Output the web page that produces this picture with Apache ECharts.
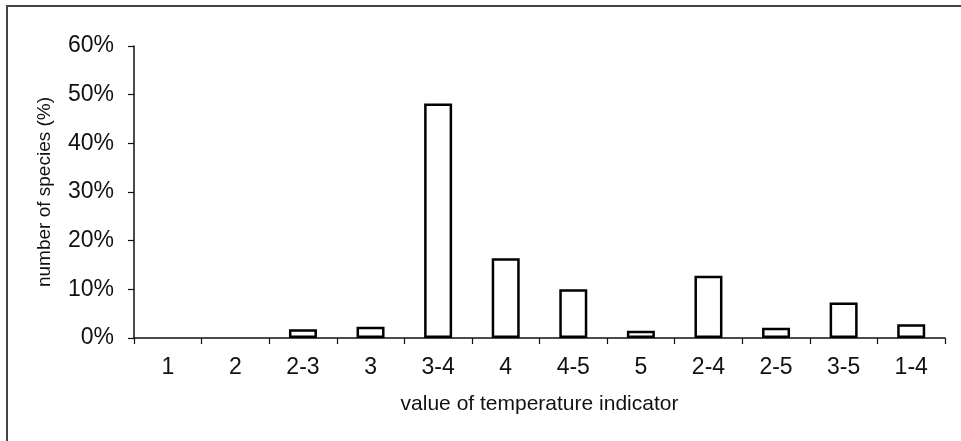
<!DOCTYPE html>
<html>
<head>
<meta charset="utf-8">
<script src="https://cdn.jsdelivr.net/npm/echarts@6/dist/echarts.min.js"></script>
<style>
  html, body { margin: 0; padding: 0; background: #fff; }
  #chart { width: 961px; height: 441px; }
</style>
</head>
<body>
<div id="chart"></div>
<script>
// 温度指示值类别
var categories = ['1', '2', '2-3', '3', '3-4', '4', '4-5', '5', '2-4', '2-5', '3-5', '1-4'];
// 物种比例 (%)
var speciesShare = [0, 0, 1.8, 2.3, 48.2, 16.4, 10.0, 1.5, 12.8, 2.1, 7.3, 2.8];
var yTicks = [0, 10, 20, 30, 40, 50, 60];

var FONT = '"Liberation Sans", Arial, sans-serif';

var chart = echarts.init(document.getElementById('chart'), null, { renderer: 'canvas' });

// 零值柱子不画边框（原图中看不到）
var barData = speciesShare.map(function (v) {
  return v === 0 ? { value: v, itemStyle: { borderWidth: 0 } } : v;
});

var option = {
  animation: false,
  backgroundColor: '#fff',
  textStyle: { fontFamily: FONT, color: '#111' },
  grid: {
    left: 134,
    right: 16,
    top: 46,
    bottom: 103
  },
  graphic: [{
    type: 'rect',
    shape: { x: 7, y: 6, width: 1200, height: 1200 },
    style: { fill: 'none', stroke: '#444', lineWidth: 2 },
    silent: true
  }],
  xAxis: {
    type: 'category',
    data: categories,
    name: 'value of temperature indicator',
    nameLocation: 'middle',
    nameGap: 56,
    nameTextStyle: { fontSize: 21, color: '#111', fontFamily: FONT },
    axisLine: { lineStyle: { color: '#111', width: 1.5 } },
    axisTick: { show: true, length: 6, lineStyle: { color: '#111', width: 1.2 } },
    axisLabel: { fontSize: 23, color: '#111', margin: 18, interval: 0, fontFamily: FONT },
    splitLine: { show: false }
  },
  yAxis: {
    type: 'value',
    min: yTicks[0],
    max: yTicks[yTicks.length - 1],
    interval: 10,
    name: 'number of species (%)',
    nameLocation: 'middle',
    nameGap: 80,
    nameRotate: 90,
    nameTextStyle: { fontSize: 19, color: '#111', fontFamily: FONT },
    axisLine: { show: true, lineStyle: { color: '#111', width: 1.5 } },
    axisTick: { show: true, length: 6, lineStyle: { color: '#111', width: 1.2 } },
    axisLabel: { fontSize: 23, color: '#111', margin: 20, formatter: '{value}%', fontFamily: FONT },
    splitLine: { show: false }
  },
  series: [{
    type: 'bar',
    data: barData,
    barWidth: 28,
    itemStyle: {
      color: '#fff',
      borderColor: '#000',
      borderWidth: 2.5
    }
  }]
};

chart.setOption(option);
</script>
</body>
</html>
